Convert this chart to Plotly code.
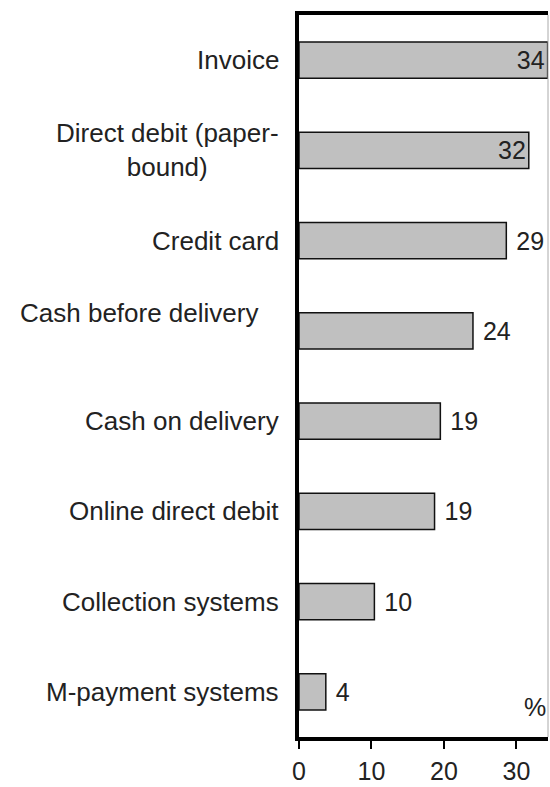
import plotly.graph_objects as go

categories = ["Invoice", "Direct debit (paper-bound)", "Credit card", "Cash before delivery",
              "Cash on delivery", "Online direct debit", "Collection systems", "M-payment systems"]
display_labels = ["Invoice", "Direct debit (paper-<br>bound)", "Credit card", "Cash before delivery",
                  "Cash on delivery", "Online direct debit", "Collection systems", "M-payment systems"]
values = [34.3, 31.7, 28.6, 24.0, 19.5, 18.7, 10.4, 3.7]
value_labels = ["34", "32", "29", "24", "19", "19", "10", "4"]
inside_flags = [True, True, False, False, False, False, False, False]
x_ticks = [0, 10, 20, 30]

FONT = "Liberation Sans, Arial, sans-serif"
TXT = "#222222"
FS = 25
FS_CAT = 26

texts = [lab if ins else " " + lab for lab, ins in zip(value_labels, inside_flags)]
positions = ["inside" if ins else "outside" for ins in inside_flags]

fig = go.Figure(go.Bar(
    y=categories, x=values, orientation="h",
    marker=dict(color="#c0c0c0", line=dict(color="#111111", width=1.5)),
    width=0.4,
    text=texts, textposition=positions, insidetextanchor="end",
    textfont=dict(family=FONT, size=FS, color=TXT),
    insidetextfont=dict(family=FONT, size=FS, color=TXT),
    outsidetextfont=dict(family=FONT, size=FS, color=TXT),
    cliponaxis=False,
))

annotations = []
for cat, lab in zip(categories, display_labels):
    xs, ys = -18, 0
    if cat == "Cash before delivery":
        xs, ys = -39, 18
    annotations.append(dict(
        x=0, xref="paper", y=cat, yref="y", text=lab, showarrow=False,
        xanchor="right", yanchor="middle", align="center", xshift=xs, yshift=ys,
        font=dict(family=FONT, size=FS_CAT, color=TXT),
    ))
annotations.append(dict(
    x=1, xref="paper", y=0, yref="paper", text="%", showarrow=False,
    xanchor="right", yanchor="bottom", yshift=14, xshift=0,
    font=dict(family=FONT, size=FS, color=TXT),
))

fig.update_layout(
    width=550, height=787,
    margin=dict(l=299, r=2, t=15, b=50),
    plot_bgcolor="white", paper_bgcolor="white",
    showlegend=False,
    annotations=annotations,
    shapes=[dict(type="line", xref="paper", yref="paper", x0=1, x1=1, y0=0, y1=1,
                 line=dict(color="#aaaaaa", width=1))],
    xaxis=dict(range=[0, 34.35], tickvals=x_ticks, ticktext=[str(t) for t in x_ticks],
               showgrid=False, zeroline=False, showline=True, linecolor="black", linewidth=4,
               mirror=True, ticks="outside", ticklen=8, tickwidth=2, tickcolor="black",
               ticklabelstandoff=1, automargin=False,
               tickfont=dict(family=FONT, size=FS, color=TXT), fixedrange=True),
    yaxis=dict(autorange="reversed", showticklabels=False, showgrid=False, zeroline=False,
               showline=True, linecolor="black", linewidth=4, ticks="", fixedrange=True,
               automargin=False),
)

fig.write_html("out.html")
